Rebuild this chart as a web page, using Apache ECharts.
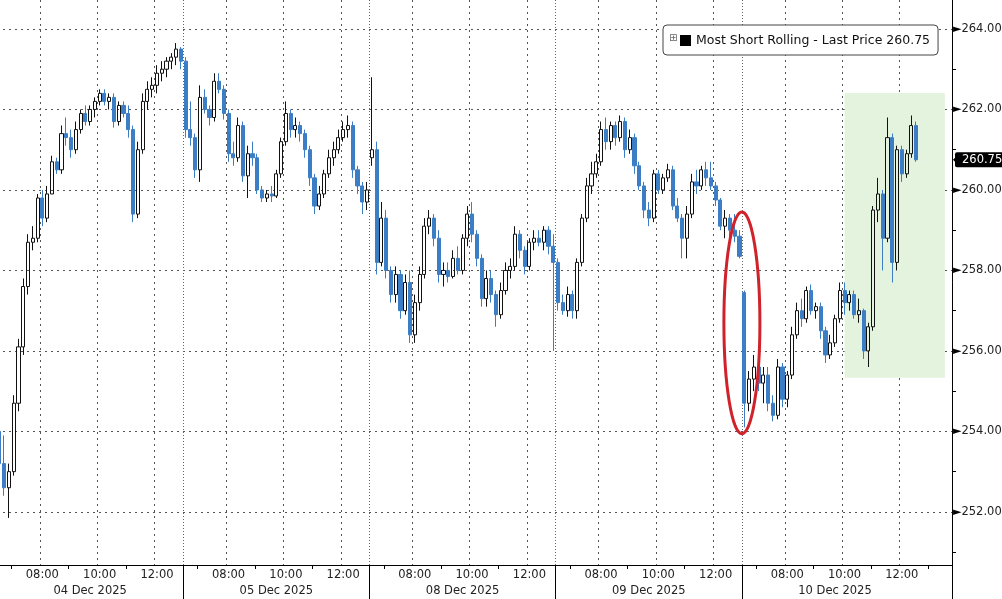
<!DOCTYPE html>
<html><head><meta charset="utf-8">
<script src="https://cdn.jsdelivr.net/npm/echarts@6/dist/echarts.min.js"></script>
<style>html,body{margin:0;padding:0;background:#fff}#c{width:1002px;height:599px}</style>
</head><body><div id="c"></div>
<script>
// ---- axis / category definitions ----
const dayLabels = ['04 Dec 2025', '05 Dec 2025', '08 Dec 2025', '09 Dec 2025', '10 Dec 2025'];
const slotsPerDay = [39, 39, 39, 39, 44];      // 10-minute slots from 06:30
const sessionStartMin = 6 * 60 + 30;
const barMinutes = 10;
const timeLabelHours = [8, 10, 12];
const minorTickHours = [7, 9, 11, 13];
const dateLabelSlot = 19;

// ---- price bars: [open, high, low, close] ----
const day1 = [
[254.0,254.3,252.9,253.2],[253.2,253.9,252.4,252.6],[252.6,253.2,251.85,253.0],[253.0,254.9,252.9,254.7],
[254.7,256.3,254.5,256.1],[256.1,257.8,255.9,257.6],[257.6,258.9,257.4,258.7],[258.7,259.1,258.5,258.8],
[258.8,259.9,258.7,259.8],[259.8,260.0,259.1,259.3],[259.3,260.1,259.2,259.9],[259.9,260.85,259.9,260.7],
[260.7,260.8,260.4,260.5],[260.5,261.6,260.4,261.4],[261.4,261.8,261.1,261.3],[261.3,261.5,260.8,261.0],
[261.0,261.7,260.9,261.5],[261.5,262.0,261.4,261.9],[261.9,262.1,261.6,261.7],[261.7,262.1,261.6,262.0],
[262.0,262.3,261.8,262.2],[262.2,262.5,262.1,262.4],[262.4,262.5,262.1,262.2],[262.2,262.4,262.0,262.3],
[262.3,262.4,261.55,261.7],[261.7,262.2,261.6,262.1],[262.1,262.2,261.8,261.9],[261.9,262.1,261.3,261.5],
[261.5,261.6,259.2,259.4],[259.4,261.2,259.3,261.0],[261.0,262.4,260.9,262.2],[262.2,262.7,262.0,262.5],
[262.5,262.8,262.3,262.6],[262.6,263.1,262.4,262.9],[262.9,263.2,262.7,263.0],[263.0,263.3,262.8,263.2],
[263.2,263.4,263.0,263.3],[263.3,263.65,263.1,263.5],[263.5,263.55,263.0,263.2]
];
const day2 = [
[263.2,263.3,261.3,261.5],[261.5,262.2,261.1,261.3],[261.3,261.4,260.3,260.5],[260.5,262.6,260.2,262.3],
[262.3,262.5,261.9,262.0],[262.0,262.1,261.6,261.8],[261.8,262.9,261.7,262.7],[262.7,262.9,262.4,262.5],
[262.5,262.6,261.75,261.9],[261.9,262.0,260.7,260.9],[260.9,261.2,260.6,260.8],[260.8,261.8,260.7,261.6],
[261.6,261.7,260.2,260.35],[260.35,261.1,259.8,260.9],[260.9,261.2,260.6,260.8],[260.8,260.9,259.9,260.0],
[260.0,260.1,259.7,259.8],[259.8,260.0,259.7,259.9],[259.9,260.1,259.7,259.85],[259.85,260.5,259.8,260.4],
[260.4,261.3,260.3,261.2],[261.2,262.2,261.1,261.9],[261.9,262.0,261.3,261.5],[261.5,261.8,261.3,261.6],
[261.6,261.7,261.2,261.4],[261.4,261.5,260.8,261.0],[261.0,261.1,260.1,260.3],[260.3,260.4,259.4,259.6],
[259.6,260.1,259.5,259.9],[259.9,260.5,259.8,260.4],[260.4,261.0,260.3,260.8],[260.8,261.2,260.6,261.0],
[261.0,261.5,260.9,261.3],[261.3,261.7,261.2,261.5],[261.5,261.85,261.3,261.6],[261.6,261.7,260.3,260.5],
[260.5,260.6,259.9,260.1],[260.1,260.2,259.4,259.7],[259.7,260.2,259.5,260.0]
];
const day3 = [
[260.8,262.8,260.6,261.0],[261.0,261.2,257.9,258.2],[258.2,259.7,258.1,259.3],[259.3,259.5,257.8,258.0],
[258.0,258.1,257.2,257.4],[257.4,258.1,257.2,257.9],[257.9,258.0,256.8,257.0],[257.0,257.9,256.9,257.7],
[257.7,258.0,256.2,256.4],[256.4,257.4,256.2,257.2],[257.2,258.1,257.0,257.9],[257.9,259.3,257.8,259.1],
[259.1,259.5,258.9,259.3],[259.3,259.4,258.6,258.8],[258.8,259.0,257.7,257.9],[257.9,258.2,257.6,258.0],
[258.0,258.2,257.7,257.85],[257.85,258.5,257.8,258.3],[258.3,258.6,257.9,258.0],[258.0,258.9,257.9,258.8],
[258.8,259.6,258.6,259.4],[259.4,259.7,258.7,258.9],[258.9,259.0,258.1,258.3],[258.3,258.4,257.1,257.3],
[257.3,258.0,257.1,257.8],[257.8,258.0,257.2,257.4],[257.4,257.5,256.6,256.9],[256.9,257.7,256.8,257.5],
[257.5,258.2,257.4,258.0],[258.0,258.3,257.8,258.1],[258.1,259.1,258.0,258.9],[258.9,259.0,258.3,258.5],
[258.5,258.6,257.9,258.1],[258.1,258.8,258.0,258.7],[258.7,259.0,258.5,258.8],[258.8,259.0,258.6,258.7],
[258.7,259.1,258.5,259.0],[259.0,259.1,258.4,258.6],[258.6,258.9,256.0,258.2]
];
const day4 = [
[258.2,258.3,257.0,257.2],[257.2,257.4,256.9,257.0],[257.0,257.6,256.85,257.4],[257.4,257.5,256.8,257.0],
[257.0,258.3,256.8,258.2],[258.2,259.4,258.1,259.3],[259.3,260.3,259.2,260.1],[260.1,260.7,259.9,260.4],
[260.4,260.9,260.3,260.7],[260.7,261.7,260.6,261.5],[261.5,261.8,261.0,261.2],[261.2,261.7,261.0,261.6],
[261.6,261.7,261.1,261.3],[261.3,261.85,261.2,261.7],[261.7,261.8,260.8,261.0],[261.0,261.5,260.9,261.3],
[261.3,261.4,260.4,260.6],[260.6,260.7,260.0,260.1],[260.1,260.2,259.3,259.5],[259.5,259.7,259.1,259.3],
[259.3,260.5,259.2,260.4],[260.4,260.5,259.9,260.0],[260.0,260.4,259.9,260.3],[260.3,260.65,260.2,260.5],
[260.5,260.6,259.5,259.6],[259.6,259.8,259.2,259.3],[259.3,259.4,258.3,258.8],[258.8,259.6,258.3,259.4],
[259.4,260.4,259.3,260.2],[260.2,260.5,259.9,260.1],[260.1,260.6,260.0,260.5],[260.5,260.7,260.1,260.3],
[260.3,260.7,260.0,260.1],[260.1,260.2,259.6,259.75],[259.75,259.8,259.0,259.1],[259.1,259.5,258.8,259.3],
[259.3,259.4,258.8,259.0],[259.0,259.4,258.7,258.85],[258.85,259.0,258.3,258.35]
];
const day5 = [
[257.45,257.5,254.1,254.7],[254.7,255.5,254.5,255.3],[255.3,255.9,255.0,255.6],[255.6,255.7,255.0,255.2],
[255.2,255.6,254.7,255.4],[255.4,255.6,254.5,254.7],[254.7,254.9,254.25,254.4],[254.4,255.8,254.3,255.6],
[255.6,255.7,254.6,254.8],[254.8,255.5,254.6,255.4],[255.4,256.6,255.3,256.4],[256.4,257.2,256.3,257.0],
[257.0,257.3,256.6,256.8],[256.8,257.6,256.7,257.5],[257.5,257.65,256.9,257.0],[257.0,257.2,256.8,257.1],
[257.1,257.2,256.3,256.5],[256.5,256.6,255.7,255.9],[255.9,256.4,255.8,256.2],[256.2,256.9,256.1,256.8],
[256.8,257.7,256.7,257.5],[257.5,257.7,256.9,257.2],[257.2,257.5,257.0,257.4],[257.4,257.5,256.8,256.9],
[256.9,257.3,256.7,257.0],[257.0,257.05,255.8,256.0],[256.0,256.7,255.6,256.6],[256.6,259.6,256.5,259.5],
[259.5,260.3,259.2,259.9],[259.9,260.0,258.0,258.8],[258.8,261.8,258.7,261.3],[261.3,261.4,257.7,258.2],
[258.2,261.1,258.0,261.0],[261.0,261.1,260.2,260.4],[260.4,261.0,260.3,260.9],[260.9,261.85,260.8,261.6],
[261.6,261.7,260.7,260.75]
];

const seriesName = 'Most Short Rolling';
const lastPrice = 260.75;
const yMin = 250.68, yMax = 264.72;
// shaded box (day, start time, end time, low, high)
const boxDay = '10 Dec 2025', boxStart = '10:00', boxEnd = '13:30', boxLow = 255.33, boxHigh = 262.41;
// circled move: between last bar of 09 Dec and first bar of 10 Dec
const circleTop = 259.45, circleBottom = 253.94;

// ---- build ----
const pad = n => (n < 10 ? '0' : '') + n;
const categories = [];
const slotOf = [];
dayLabels.forEach((d, i) => {
  for (let k = 0; k < slotsPerDay[i]; k++) {
    const m = sessionStartMin + k * barMinutes;
    categories.push(d + ' ' + pad(Math.floor(m / 60)) + ':' + pad(m % 60));
    slotOf.push(k);
  }
});
const bars = [].concat(day1, day2, day3, day4, day5);
const candleData = bars.map(b => [b[0], b[3], b[2], b[1]]);
const isHour = (v, hours) => v.slice(-2) === '00' && hours.indexOf(parseInt(v.slice(-5, -3), 10)) >= 0;
const FONT = 'DejaVu Sans';

const chart = echarts.init(document.getElementById('c'), null, {renderer: 'canvas'});
chart.setOption({
  animation: false,
  backgroundColor: '#ffffff',
  grid: {left: -3, right: 50, top: 0, bottom: 34, containLabel: false, outerBoundsMode: 'none'},
  legend: {
    left: 663, top: 25, padding: [9, 8, 8, 17],
    itemWidth: 11, itemHeight: 11, icon: 'rect',
    borderColor: '#444', borderWidth: 1, borderRadius: 4, backgroundColor: '#fff',
    selectedMode: false,
    textStyle: {fontFamily: FONT, fontSize: 12.5, color: '#111'},
    formatter: n => n + ' - Last Price ' + lastPrice.toFixed(2),
    data: [{name: seriesName, icon: 'rect', itemStyle: {color: '#000', borderWidth: 0}}],
    z: 20
  },
  xAxis: [{
    type: 'category', data: categories, boundaryGap: true, position: 'bottom',
    axisLine: {show: true, lineStyle: {color: '#000', width: 1}},
    axisTick: {show: true, length: 4, interval: (i, v) => isHour(v, minorTickHours), lineStyle: {color: '#000'}},
    axisLabel: {interval: (i, v) => isHour(v, timeLabelHours), formatter: v => v.slice(-5), margin: 4,
      fontFamily: FONT, fontSize: 11.5, color: '#222'},
    splitLine: {show: true, interval: (i, v) => isHour(v, timeLabelHours), lineStyle: {color: '#555', type: [2, 4], width: 1}}
  }, {
    type: 'category', data: categories, boundaryGap: true, position: 'bottom',
    axisLine: {show: false},
    axisTick: {show: true, length: 34, interval: i => slotOf[i] === 0, lineStyle: {color: '#000'}},
    axisLabel: {interval: i => slotOf[i] === dateLabelSlot, formatter: v => v.slice(0, 11), margin: 20,
      fontFamily: FONT, fontSize: 11.5, color: '#222'},
    splitLine: {show: true, interval: i => slotOf[i] === 0, lineStyle: {color: '#666', type: [1, 2], width: 1}}
  }],
  yAxis: {
    type: 'value', position: 'right', min: yMin, max: yMax, splitNumber: 7,
    axisLine: {show: true, lineStyle: {color: '#000', width: 1}},
    axisTick: {show: false},
    minorTick: {show: true, splitNumber: 2, length: 4, lineStyle: {color: '#000'}},
    minorSplitLine: {show: false},
    axisLabel: {
      margin: 1,
      formatter: v => (Math.abs(v / 2 - Math.round(v / 2)) < 1e-6) ? '{a|►}{v|' + v.toFixed(2) + '}' : '',
      rich: {a: {fontSize: 11, color: '#000', padding: [0, 0, 0, 0], fontFamily: FONT},
             v: {fontSize: 11.5, color: '#222', fontFamily: FONT}}
    },
    splitLine: {show: true, showMinLine: false, showMaxLine: false, lineStyle: {color: '#555', type: [2, 4], width: 1}}
  },
  series: [{
    type: 'candlestick', name: seriesName, xAxisIndex: 0, yAxisIndex: 0,
    data: candleData, barWidth: 3.6, clip: false,
    itemStyle: {color: 'rgba(0,0,0,0)', color0: '#3b7ec5', borderColor: '#111', borderColor0: '#3b7ec5', borderWidth: 1},
    markArea: {
      silent: true,
      itemStyle: {color: 'rgb(228,243,222)'},
      data: [[{xAxis: boxDay + ' ' + boxStart, yAxis: boxHigh}, {xAxis: boxDay + ' ' + boxEnd, yAxis: boxLow}]]
    }
  }]
});

// annotations positioned from data coordinates
const iLast = slotsPerDay.slice(0, 4).reduce((a, b) => a + b, 0) - 1;
const xa = chart.convertToPixel({xAxisIndex: 0}, categories[iLast]);
const xb = chart.convertToPixel({xAxisIndex: 0}, categories[iLast + 1]);
const yt = chart.convertToPixel({yAxisIndex: 0}, circleTop);
const yb = chart.convertToPixel({yAxisIndex: 0}, circleBottom);
const yp = chart.convertToPixel({yAxisIndex: 0}, lastPrice);
chart.setOption({
  graphic: [
    {id: 'ring', type: 'ellipse', z: 50, silent: true,
     shape: {cx: (xa + xb) / 2, cy: (yt + yb) / 2, rx: 18, ry: (yb - yt) / 2},
     style: {fill: 'none', stroke: '#d0222a', lineWidth: 3}},
    {id: 'expand', type: 'text', z: 100, left: 669, top: 33, silent: true,
     style: {text: '⊞', fontSize: 10, fill: '#666', fontFamily: FONT}},
    {id: 'priceTag', type: 'text', z: 100, silent: true, x: 955, y: yp,
     style: {text: lastPrice.toFixed(2), fill: '#fff', backgroundColor: '#000', padding: [2, 3, 1, 7],
       borderRadius: 2, font: '11.5px "DejaVu Sans"', verticalAlign: 'middle', align: 'left'}},
    {id: 'priceArrow', type: 'polygon', z: 101, silent: true,
     shape: {points: [[953, yp], [958, yp - 5], [958, yp + 5]]}, style: {fill: '#000'}}
  ]
});
</script>
</body></html>
